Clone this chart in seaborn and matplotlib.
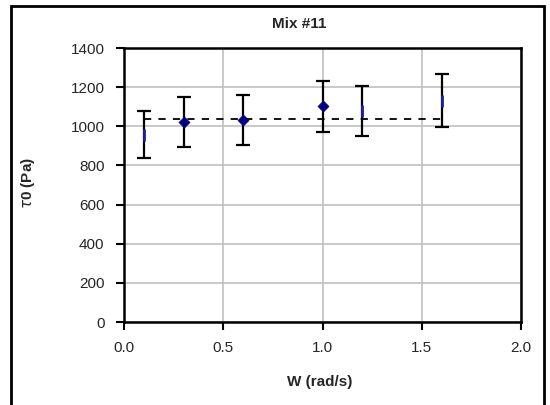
import numpy as np
import pandas as pd
import matplotlib
matplotlib.use("Agg")
import matplotlib.pyplot as plt
import seaborn as sns
from matplotlib.patches import Rectangle

# data
omega = [0.1, 0.3, 0.6, 1.0, 1.2, 1.6]
tau0 = [958, 1020, 1032, 1102, 1078, 1130]
tau0_err = [122, 128, 128, 131, 127, 136]
mean_x = [0.1, 1.6]
mean_tau0 = [1036, 1036]
x_ticks = [0.0, 0.5, 1.0, 1.5, 2.0]
y_ticks = [0, 200, 400, 600, 800, 1000, 1200, 1400]

sns.set_style("white")
plt.rcParams["font.family"] = ["Liberation Sans", "DejaVu Sans"]

df = pd.DataFrame({"omega": omega, "tau0": tau0, "err": tau0_err})
diamond = df.iloc[1:4]
dash = df.iloc[[0, 4, 5]]

fig = plt.figure(figsize=(5.5, 4.05), dpi=100)
ax = fig.add_axes([124 / 550, 1 - 322 / 405, (521 - 124) / 550, (322 - 48) / 405])

# outer frame of the chart
fig.patches.append(Rectangle((11 / 550, -0.02), (544 - 11) / 550, 1 - 6 / 405 + 0.02,
                             transform=fig.transFigure, fill=False,
                             edgecolor="black", linewidth=2))

ax.grid(True, color="#c0c0c0", linewidth=1.2)
ax.set_axisbelow(True)

# mean line
sns.lineplot(x=mean_x, y=mean_tau0, ax=ax, color="black", linewidth=1.3,
             linestyle=(0, (4, 4)), zorder=2)

ax.errorbar(df["omega"], df["tau0"], yerr=df["err"], fmt="none",
            ecolor="black", elinewidth=1.6, capsize=5, capthick=1.6, zorder=3)

sns.scatterplot(data=diamond, x="omega", y="tau0", ax=ax, marker="D", s=32,
                color="#000080", edgecolor="#000080", zorder=4)
sns.scatterplot(data=dash, x="omega", y="tau0", ax=ax, marker="|", s=70,
                color="#1f1fa0", linewidth=2.0, zorder=4)

ax.set_xlim(0, 2.0)
ax.set_ylim(0, 1400)
ax.set_xticks(x_ticks)
ax.set_yticks(y_ticks)
ax.set_xticklabels([f"{v:.1f}" for v in x_ticks])
ax.set_yticklabels([str(v) for v in y_ticks])
ax.tick_params(axis="both", direction="out", length=6, width=1.5, color="black",
               labelsize=11, pad=8, left=True, bottom=True)
for s in ax.spines.values():
    s.set_visible(True)
    s.set_color("black")
    s.set_linewidth(1.8)

ax.set_xlabel("")
ax.set_ylabel("")
fig.text(299 / 550, 1 - 24 / 405, "Mix #11", ha="center", va="center",
         fontsize=11, fontweight="bold")
fig.text(320 / 550, 1 - 382 / 405, "W (rad/s)", ha="center", va="center",
         fontsize=11, fontweight="bold")
fig.text(28 / 550, 1 - 183 / 405, r"$\tau$0 (Pa)", ha="center", va="center",
         rotation=90, fontsize=11, fontweight="bold")

fig.savefig("out.png", dpi=100)
